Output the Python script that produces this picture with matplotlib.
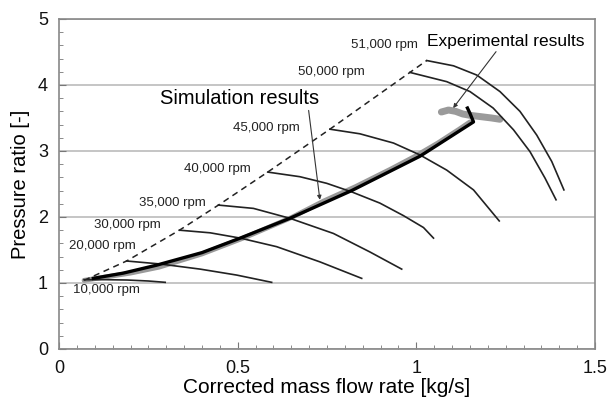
import matplotlib
matplotlib.use("Agg")
import matplotlib.pyplot as plt
from matplotlib.ticker import MultipleLocator

plt.rcParams['font.family'] = ['Liberation Sans', 'DejaVu Sans']

# speed lines (corrected mass flow [kg/s], pressure ratio [-])
speed_labels = ["10,000 rpm", "20,000 rpm", "30,000 rpm", "35,000 rpm",
                "40,000 rpm", "45,000 rpm", "50,000 rpm", "51,000 rpm"]
speed_x = [
    [0.07, 0.13, 0.19, 0.25, 0.297],
    [0.189, 0.283, 0.395, 0.497, 0.595],
    [0.337, 0.423, 0.507, 0.609, 0.730, 0.847],
    [0.446, 0.544, 0.646, 0.768, 0.870, 0.959],
    [0.584, 0.674, 0.749, 0.819, 0.898, 0.964, 1.020, 1.048],
    [0.758, 0.842, 0.936, 1.010, 1.085, 1.160, 1.232],
    [0.982, 1.085, 1.150, 1.215, 1.272, 1.318, 1.360, 1.391],
    [1.029, 1.104, 1.169, 1.234, 1.290, 1.337, 1.379, 1.413],
]
speed_y = [
    [1.05, 1.05, 1.045, 1.03, 1.01],
    [1.333, 1.288, 1.21, 1.12, 1.01],
    [1.80, 1.76, 1.68, 1.55, 1.32, 1.07],
    [2.18, 2.13, 1.98, 1.75, 1.47, 1.21],
    [2.68, 2.61, 2.51, 2.38, 2.21, 2.02, 1.84, 1.68],
    [3.33, 3.26, 3.12, 2.94, 2.71, 2.41, 1.94],
    [4.19, 4.05, 3.90, 3.65, 3.32, 2.99, 2.59, 2.26],
    [4.37, 4.29, 4.15, 3.90, 3.60, 3.24, 2.84, 2.41],
]
label_x = [0.132, 0.122, 0.192, 0.317, 0.444, 0.58, 0.761, 0.91]
label_y = [0.89, 1.56, 1.88, 2.21, 2.73, 3.35, 4.20, 4.60]

# surge line
surge_x = [0.07, 0.189, 0.337, 0.446, 0.584, 0.758, 0.982, 1.029]
surge_y = [1.04, 1.333, 1.80, 2.18, 2.68, 3.33, 4.19, 4.37]

# simulation results
sim_x = [0.096, 0.18, 0.273, 0.40, 0.507, 0.646, 0.819, 1.010, 1.160, 1.150, 1.143]
sim_y = [1.07, 1.15, 1.27, 1.46, 1.68, 1.98, 2.40, 2.92, 3.44, 3.57, 3.65]

# experimental results
exp_x = [0.07, 0.20, 0.28, 0.40, 0.52, 0.65, 0.74, 0.83, 0.93, 1.00, 1.06, 1.12, 1.15]
exp_y = [1.04, 1.15, 1.24, 1.44, 1.69, 1.99, 2.24, 2.46, 2.73, 2.93, 3.12, 3.33, 3.44]
blob_x = [1.07, 1.09, 1.11, 1.13, 1.15, 1.18, 1.21, 1.234]
blob_y = [3.59, 3.62, 3.60, 3.56, 3.54, 3.52, 3.50, 3.48]

fig = plt.figure(figsize=(6.09, 4.03), dpi=100)
ax = fig.add_axes([0.097, 0.134, 0.88, 0.819])

ax.plot(exp_x, exp_y, color='#9a9a9a', lw=3.5, solid_capstyle='round', zorder=2)
ax.plot(blob_x, blob_y, color='#9a9a9a', lw=5, solid_capstyle='round', zorder=2)

for xs, ys in zip(speed_x, speed_y):
    ax.plot(xs, ys, color='#222222', lw=1.2, zorder=3)
for lab, lx, ly in zip(speed_labels, label_x, label_y):
    ax.text(lx, ly, lab, fontsize=9.5, ha='center', va='center', color='#222222')

ax.plot(surge_x, surge_y, color='#222222', lw=1.1, ls=(0, (4, 3)), zorder=3)
ax.plot(sim_x, sim_y, color='black', lw=2.4, zorder=4)

ax.annotate("Simulation results", xy=(0.730, 2.26), xytext=(0.506, 3.80),
            fontsize=14.5, ha='center', va='center',
            arrowprops=dict(arrowstyle='-|>', color='#333333', lw=0.8,
                            mutation_scale=6, shrinkA=0, shrinkB=0,
                            relpos=(0.93, 0.0)))
ax.annotate("Experimental results", xy=(1.103, 3.65), xytext=(1.251, 4.66),
            fontsize=12.5, ha='center', va='center',
            arrowprops=dict(arrowstyle='-|>', color='#333333', lw=0.8,
                            mutation_scale=6, shrinkA=0, shrinkB=0,
                            relpos=(0.45, 0.0)))

ax.set_xlim(0, 1.5)
ax.set_ylim(0, 5)
ax.set_xticks([0, 0.5, 1, 1.5])
ax.set_xticklabels(["0", "0.5", "1", "1.5"])
ax.set_yticks([0, 1, 2, 3, 4, 5])
ax.xaxis.set_minor_locator(MultipleLocator(0.05))
ax.yaxis.set_minor_locator(MultipleLocator(0.2))
ax.tick_params(which='both', direction='in', colors='#777777', labelcolor='#111111',
               labelsize=13)
ax.tick_params(which='major', length=5, pad=8)
ax.tick_params(which='minor', length=3)
ax.grid(axis='y', color='#bbbbbb', lw=1.2)
for s in ax.spines.values():
    s.set_color('#888888')
    s.set_linewidth(1.2)

ax.set_xlabel("Corrected mass flow rate [kg/s]", fontsize=15, labelpad=1)
ax.set_ylabel("Pressure ratio [-]", fontsize=14.5, labelpad=6)

fig.savefig("out.png", dpi=100)
